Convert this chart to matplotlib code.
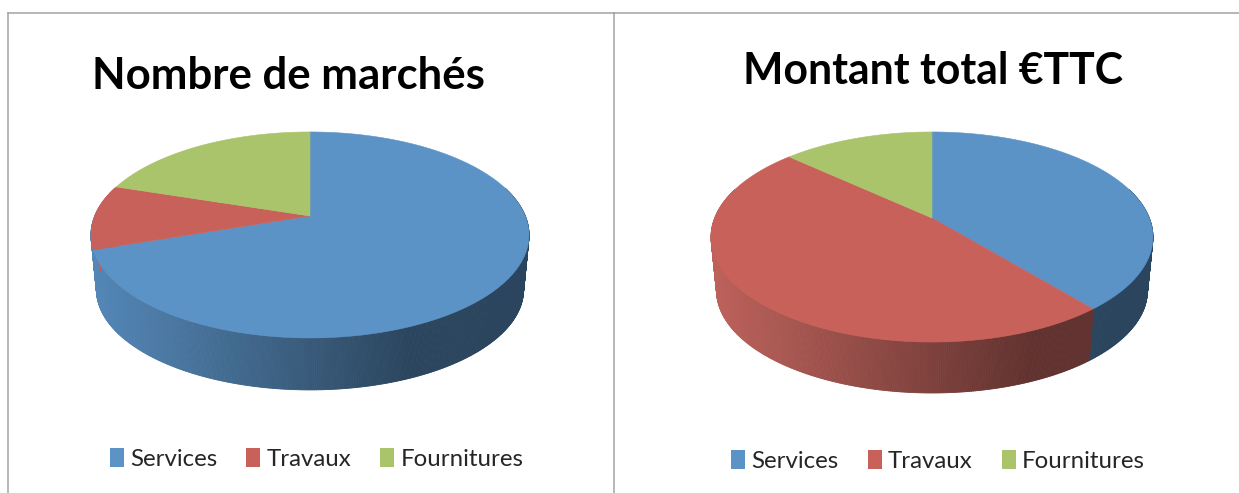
import numpy as np
import matplotlib
matplotlib.use('Agg')
import matplotlib.pyplot as plt
from matplotlib.collections import PolyCollection
from matplotlib.patches import Patch

W, H = 1239, 493
categories = ['Services', 'Travaux', 'Fournitures']
nb_marches = [69.8, 10.2, 20.0]
montant_ttc = [39.0, 47.8, 13.2]
colors = ['#5B93C7', '#C9615B', '#A9C46B']
wall_colors = ['#5B93C7', '#CE6A63', '#A9C46B']

plt.rcParams['font.family'] = ['Lato', 'DejaVu Sans']


def project(theta, cx, cy, a, b, k, dy=0, s=1.0):
    # clockwise from north, perspective disc
    u = np.sin(theta)
    v = np.cos(theta)
    d = 1 + k * v
    return cx + s * b * u / d, cy + dy - s * a * v / d


def pie3d(ax, values, cx, cy, a, b, k, depth, s_bot):
    edges = np.cumsum([0] + list(values)) / sum(values) * 2 * np.pi
    xleft = cx - b / np.sqrt(1 - k ** 2)
    width = 2 * b / np.sqrt(1 - k ** 2)
    # side wall
    th = np.linspace(np.pi / 2 - 0.3, 3 * np.pi / 2 + 0.3, 500)
    polys, cols = [], []
    for t0, t1 in zip(th[:-1], th[1:]):
        x0, y0 = project(t0, cx, cy, a, b, k)
        x1, y1 = project(t1, cx, cy, a, b, k)
        x2, y2 = project(t1, cx, cy, a, b, k, depth, s_bot)
        x3, y3 = project(t0, cx, cy, a, b, k, depth, s_bot)
        polys.append([(x0, y0), (x1, y1), (x2, y2), (x3, y3)])
        tm = (t0 + t1) / 2
        # on the left the wall of the lower slice runs on past the tangent
        i = np.searchsorted(edges, tm - 0.32 if tm > np.pi else tm) - 1
        rel = ((x0 + x1) / 2 - xleft) / width
        f = max(0.92 - 0.62 * rel, 0.47) if rel < 0.72 else 0.47
        cols.append(np.array(matplotlib.colors.to_rgb(wall_colors[i])) * f)
    ax.add_collection(PolyCollection(polys, facecolors=cols, edgecolors=cols, linewidths=0.6))
    # top face
    for i in range(len(values)):
        t = np.linspace(edges[i], edges[i + 1], 300)
        x, y = project(t, cx, cy, a, b, k)
        ax.fill(np.r_[cx, x], np.r_[cy, y], color=colors[i], lw=0.4)


fig = plt.figure(figsize=(W / 100, H / 100), dpi=100, facecolor='white')
ax1 = fig.add_axes([0, 0, 614 / W, 1])
ax2 = fig.add_axes([614 / W, 0, 1 - 614 / W, 1])
ax1.set_xlim(0, 614)
ax2.set_xlim(614, W)
for ax in (ax1, ax2):
    ax.set_ylim(H, 0)
    ax.axis('off')

pie3d(ax1, nb_marches, 310, 216, 99.5, 215.3, 0.184, 55, 0.975)
pie3d(ax2, montant_ttc, 932, 218, 101.6, 217.3, 0.181, 54, 0.975)

ax1.text(288, 76, 'Nombre de marchés', ha='center', va='center', fontsize=31.5, fontweight='bold', color='black')
ax2.text(933, 71, 'Montant total €TTC', ha='center', va='center', fontsize=30.8, fontweight='bold', color='black')

# frame lines
line = dict(color='#A3A3A3', lw=1.1, clip_on=False)
ax1.plot([8, 8], [13, H], **line)
ax1.plot([8, 614], [13, 13], **line)
ax1.plot([613.8, 613.8], [13, H], **line)
ax2.plot([614, W], [13, 13], **line)

handles = [Patch(facecolor=c, lw=0) for c in colors]
for ax, x_leg, y_leg in ((ax1, 316.5, 459), (ax2, 938, 461)):
    ax.legend(handles, categories, loc='center', bbox_to_anchor=(x_leg, y_leg), bbox_transform=ax.transData,
              ncol=3, frameon=False, fontsize=17.3, handlelength=0.6, handleheight=0.85, handletextpad=0.25,
              columnspacing=1.2, labelcolor='#262626')

fig.savefig('out.png', dpi=100, facecolor='white')
